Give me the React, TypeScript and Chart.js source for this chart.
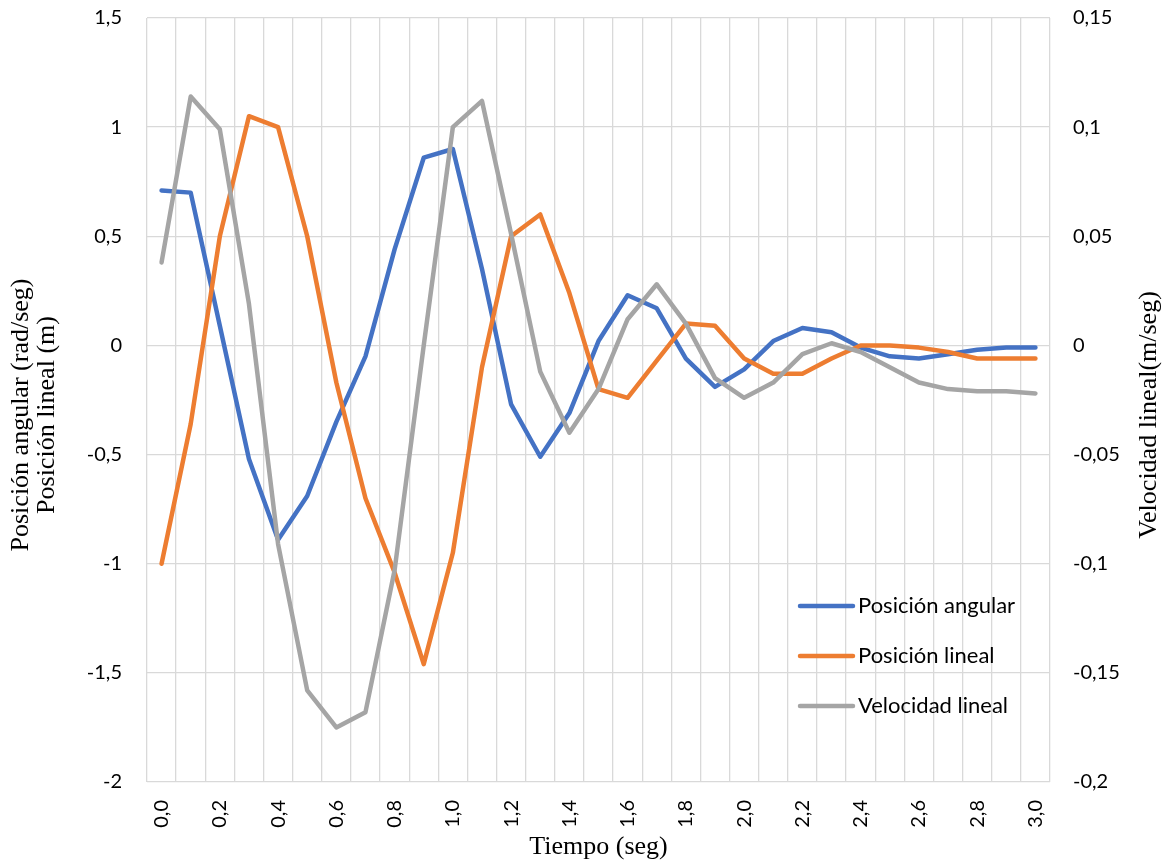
import React, { useEffect, useRef } from 'react';
import { Chart, registerables } from 'chart.js';

Chart.register(...registerables);

const categories = [
  '0,0', '0,1', '0,2', '0,3', '0,4', '0,5', '0,6', '0,7', '0,8', '0,9',
  '1,0', '1,1', '1,2', '1,3', '1,4', '1,5', '1,6', '1,7', '1,8', '1,9',
  '2,0', '2,1', '2,2', '2,3', '2,4', '2,5', '2,6', '2,7', '2,8', '2,9', '3,0',
];

const seriesNames = ['Posición angular', 'Posición lineal', 'Velocidad lineal'];
const seriesColors = ['#4472C4', '#ED7D31', '#A5A5A5'];

const posAngular = [
  0.71, 0.70, 0.09, -0.52, -0.89, -0.69, -0.35, -0.05, 0.44, 0.86,
  0.90, 0.35, -0.27, -0.51, -0.31, 0.02, 0.23, 0.17, -0.06, -0.19,
  -0.11, 0.02, 0.08, 0.06, -0.01, -0.05, -0.06, -0.04, -0.02, -0.01, -0.01,
];

const posLineal = [
  -1.0, -0.36, 0.5, 1.05, 1.0, 0.5, -0.17, -0.70, -1.04, -1.46,
  -0.95, -0.10, 0.50, 0.60, 0.24, -0.20, -0.24, -0.07, 0.10, 0.09,
  -0.06, -0.13, -0.13, -0.06, 0.0, 0.0, -0.01, -0.03, -0.06, -0.06, -0.06,
];

const velLineal = [
  0.038, 0.114, 0.099, 0.019, -0.091, -0.158, -0.175, -0.168, -0.103, 0.0,
  0.100, 0.112, 0.051, -0.012, -0.040, -0.020, 0.012, 0.028, 0.010, -0.015,
  -0.024, -0.017, -0.004, 0.001, -0.003, -0.010, -0.017, -0.020, -0.021, -0.021, -0.022,
];

const leftAxis = { min: -2, max: 1.5, step: 0.5 };
const rightAxis = { min: -0.2, max: 0.15, step: 0.05 };

const xTitle = 'Tiempo (seg)';
const yLeftTitle = ['Posición angular (rad/seg)', 'Posición lineal (m)'];
const yRightTitle = 'Velocidad lineal(m/seg)';

const fmt = (v: number) => {
  const r = Math.round(v * 1000) / 1000;
  return String(r).replace('.', ',');
};

const TICK_FONT = { family: 'Lato', size: 20 };
const GRID = '#d9d9d9';

const overlayPlugin = {
  id: 'overlay',
  afterDraw(chart: any) {
    const { ctx, chartArea: ca } = chart;
    ctx.save();
    ctx.fillStyle = '#000';
    ctx.font = '26px "Liberation Serif"';
    ctx.textAlign = 'center';
    ctx.textBaseline = 'middle';
    const cy = (ca.top + ca.bottom) / 2 + 15;
    ctx.fillText(xTitle, (ca.left + ca.right) / 2, 847);

    ctx.save();
    ctx.translate(21, cy);
    ctx.rotate(-Math.PI / 2);
    ctx.fillText(yLeftTitle[0], 0, 0);
    ctx.restore();

    ctx.save();
    ctx.translate(47, cy);
    ctx.rotate(-Math.PI / 2);
    ctx.fillText(yLeftTitle[1], 0, 0);
    ctx.restore();

    ctx.save();
    ctx.translate(1149, cy);
    ctx.rotate(-Math.PI / 2);
    ctx.fillText(yRightTitle, 0, 0);
    ctx.restore();

    // legend
    const lx = ca.right - 250;
    const rows = [ca.bottom - 176, ca.bottom - 126, ca.bottom - 76];
    ctx.font = '22px Lato';
    ctx.textAlign = 'left';
    chart.data.datasets.forEach((ds: any, i: number) => {
      const y = rows[i];
      ctx.strokeStyle = ds.borderColor;
      ctx.lineWidth = 4.5;
      ctx.lineCap = 'round';
      ctx.beginPath();
      ctx.moveTo(lx, y);
      ctx.lineTo(lx + 53, y);
      ctx.stroke();
      ctx.fillStyle = '#000';
      ctx.fillText(ds.label, lx + 58, y);
    });
    ctx.restore();
  },
};

const zeroPad = (s: any) => {
  s.paddingTop = 0;
  s.paddingBottom = 0;
  s.paddingLeft = 0;
  s.paddingRight = 0;
};

export default function App() {
  const ref = useRef<HTMLCanvasElement | null>(null);

  useEffect(() => {
    if (!ref.current) return;
    const mk = (label: string, data: number[], color: string, axis: string, order: number) => ({
      label,
      data,
      borderColor: color,
      backgroundColor: color,
      borderWidth: 4.5,
      borderCapStyle: 'round' as const,
      borderJoinStyle: 'round' as const,
      pointRadius: 0,
      tension: 0,
      fill: false,
      yAxisID: axis,
      order,
    });
    const chart = new Chart(ref.current, {
      type: 'line',
      data: {
        labels: categories,
        datasets: [
          mk(seriesNames[0], posAngular, seriesColors[0], 'y', 3),
          mk(seriesNames[1], posLineal, seriesColors[1], 'y', 2),
          mk(seriesNames[2], velLineal, seriesColors[2], 'y1', 1),
        ],
      },
      options: {
        responsive: false,
        animation: false,
        layout: { padding: { top: 18, left: 0, right: 0, bottom: 0 } },
        plugins: {
          legend: { display: false },
          tooltip: { enabled: false },
          title: { display: false },
        },
        scales: {
          x: {
            type: 'category',
            offset: true,
            grid: { offset: true, color: GRID, lineWidth: 1.3, drawTicks: false },
            border: { display: false },
            ticks: {
              autoSkip: false,
              maxRotation: 90,
              minRotation: 90,
              padding: 18,
              color: '#000',
              font: TICK_FONT,
              callback: (_v: any, i: number) => (i % 2 === 0 ? categories[i] : ''),
            },
            afterFit: (s: any) => { s.height = 81; zeroPad(s); },
          },
          y: {
            position: 'left',
            min: leftAxis.min,
            max: leftAxis.max,
            grid: { color: GRID, lineWidth: 1.3, drawTicks: false },
            border: { display: false },
            ticks: {
              stepSize: leftAxis.step,
              padding: 25,
              color: '#000',
              font: TICK_FONT,
              callback: (v: any) => fmt(Number(v)),
            },
            afterFit: (s: any) => { s.width = 147; zeroPad(s); },
          },
          y1: {
            position: 'right',
            min: rightAxis.min,
            max: rightAxis.max,
            grid: { display: false, drawTicks: false },
            border: { display: false },
            ticks: {
              stepSize: rightAxis.step,
              padding: 23,
              color: '#000',
              font: TICK_FONT,
              callback: (v: any) => fmt(Number(v)),
            },
            afterFit: (s: any) => { s.width = 117; zeroPad(s); },
          },
        },
      },
      plugins: [overlayPlugin],
    });
    return () => chart.destroy();
  }, []);

  return (
    <div style={{ position: 'fixed', left: 0, top: 0, width: 1167, height: 863, background: '#fff' }}>
      <canvas ref={ref} width={1167} height={863} style={{ display: 'block' }} />
    </div>
  );
}
